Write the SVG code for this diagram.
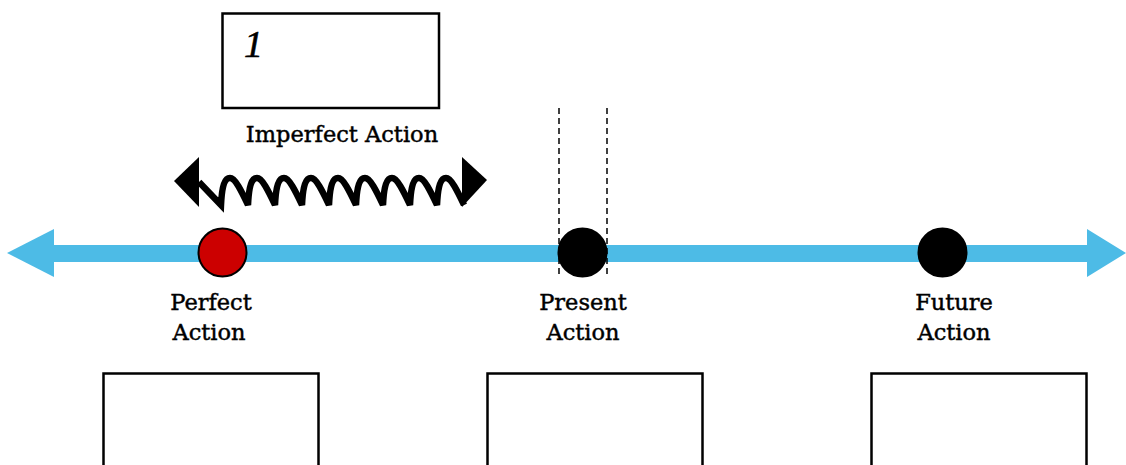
<svg xmlns="http://www.w3.org/2000/svg" width="1126" height="465" viewBox="0 0 1126 465">
<style>
.box{fill:#fff;stroke:#000;stroke-width:2.5}
.lbl{font-family:"DejaVu Serif","Liberation Serif",serif;font-size:22.5px;fill:#000;stroke:#000;stroke-width:0.45;text-anchor:middle}
.dash{stroke:#000;stroke-width:1.5;stroke-dasharray:6 4;fill:none}
.dot{stroke:#000;stroke-width:2}
</style>
<rect width="1126" height="465" fill="#fff"/>
<g id="timeline">
<rect x="50" y="245" width="1040" height="17" fill="#4dbbe6"/>
<polygon points="7,253 54,229 54,277" fill="#4dbbe6"/>
<polygon points="1126,253 1087,229 1087,277" fill="#4dbbe6"/>
</g>
<g id="box-top">
<rect class="box" x="222.5" y="13.5" width="216.5" height="94.5"/>
<text x="244" y="57" font-family="Liberation Serif, serif" font-style="italic" font-size="38" fill="#000" stroke="#000" stroke-width="0.6">1</text>
</g>
<g id="imperfect">
<text class="lbl" x="342" y="142">Imperfect Action</text>
<g id="connectors">
<path d="M199,182 L221,205 C222,185 225,178 230,178 C235,178 241,190 248,205 C249,185 252,178 257,178 C262,178 268,190 275,205 C276,185 279,178 284,178 C289,178 295,190 302,205 C303,185 306,178 311,178 C316,178 322,190 329,205 C330,185 333,178 338,178 C343,178 349,190 356,205 C357,185 360,178 365,178 C370,178 376,190 383,205 C384,185 387,178 392,178 C397,178 403,190 410,205 C411,185 414,178 419,178 C424,178 430,190 437,205 C438,185 441,178 446,178 C451,178 457,190 464,205" fill="none" stroke="#000" stroke-width="6.5" stroke-linejoin="miter"/>
<polygon points="174,181 199,157 199,207" fill="#000"/>
<polygon points="487,180 462,157 462,207" fill="#000"/>
</g>
</g>
<g id="perfect">
<circle class="dot" cx="222.5" cy="252.5" r="24" fill="#cc0000"/>
<text class="lbl" x="211" y="310">Perfect</text>
<text class="lbl" x="209" y="340">Action</text>
</g>
<g id="present">
<line class="dash" x1="559" y1="108" x2="559" y2="277"/>
<line class="dash" x1="607" y1="108" x2="607" y2="277"/>
<circle class="dot" cx="582.5" cy="252.5" r="24" fill="#000"/>
<text class="lbl" x="583" y="310">Present</text>
<text class="lbl" x="583" y="340">Action</text>
</g>
<g id="future">
<circle class="dot" cx="942.5" cy="252.5" r="24" fill="#000"/>
<text class="lbl" x="954" y="310">Future</text>
<text class="lbl" x="954" y="340">Action</text>
</g>
<g id="box-1"><rect class="box" x="103.5" y="373.5" width="215" height="100"/></g>
<g id="box-2"><rect class="box" x="487.5" y="373.5" width="215" height="100"/></g>
<g id="box-3"><rect class="box" x="871.5" y="373.5" width="215" height="100"/></g>
</svg>
